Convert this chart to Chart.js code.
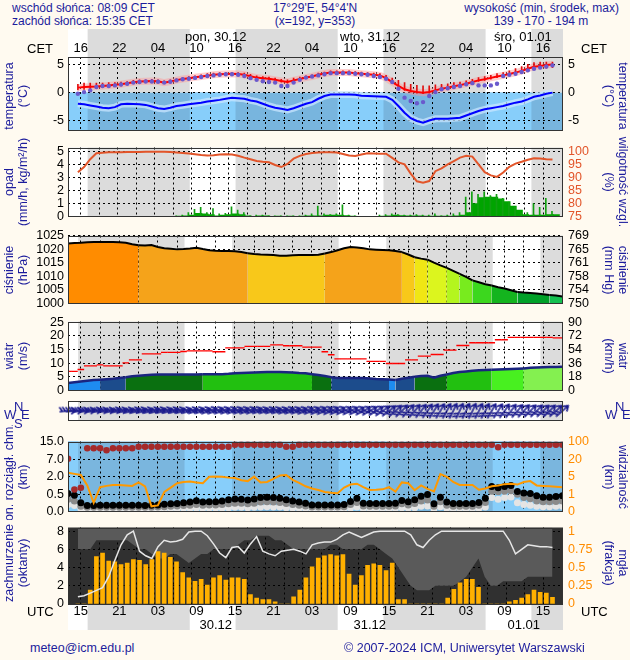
<!DOCTYPE html>
<html lang="pl">
<head>
<meta charset="utf-8">
<title>Meteogram</title>
<script src="https://cdn.jsdelivr.net/npm/chart.js@4.4.1/dist/chart.umd.min.js"></script>
<style>
  body { margin: 0; background: #fffaf0; }
  #page { position: relative; width: 630px; height: 660px; overflow: hidden; background: #fffaf0;
          font-family: "Liberation Sans", Arial, sans-serif; }
  #page canvas { position: absolute; left: 0; }
  .txt { position: absolute; font-size: 12px; color: #1c1c9c; white-space: nowrap; line-height: 13px; z-index: 5; }
  .blk { color: #000; font-size: 13px; }
  .vl, .vr { position: absolute; font-size: 12.5px; color: #1c1c9c; white-space: nowrap; line-height: 14px;
             text-align: center; z-index: 5; }
  .vl { transform: translate(-50%, -50%) rotate(-90deg); }
  .vr { transform: translate(-50%, -50%) rotate(90deg); }
  .clip { position: absolute; overflow: hidden; z-index: 5; }
</style>
</head>
<body>
<div id="page">
  <div class="txt" style="left:12px;top:2px">wschód słońca: 08:09 CET</div>
  <div class="txt" style="left:12px;top:15px">zachód słońca: 15:35 CET</div>
  <div class="txt" style="left:315px;top:2px;transform:translateX(-50%)">17°29'E, 54°4'N</div>
  <div class="txt" style="left:315px;top:15px;transform:translateX(-50%)">(x=192, y=353)</div>
  <div class="txt" style="right:11px;top:2px">wysokość (min, środek, max)</div>
  <div class="txt" style="left:541px;top:15px;transform:translateX(-50%)">139 - 170 - 194 m</div>

  <div class="txt blk" style="left:27px;top:42px">CET</div>
  <div class="txt blk" style="left:581px;top:42px">CET</div>
  <div class="txt blk" style="left:185px;top:30px">pon, 30.12</div>
  <div class="txt blk" style="left:340px;top:30px">wto, 31.12</div>
  <div class="txt blk" style="left:494px;top:30px">śro, 01.01</div>

  <div class="vl" style="left:16px;top:96px">temperatura<br>(°C)</div>
  <div class="vr" style="left:616px;top:96px">temperatura<br>(°C)</div>
  <div class="vl" style="left:16px;top:182px">opad<br>(mm/h, kg/m²/h)</div>
  <div class="vr" style="left:616px;top:182px">wilgotność wzgl.<br>(%)</div>
  <div class="vl" style="left:16px;top:270px">ciśnienie<br>(hPa)</div>
  <div class="vr" style="left:616px;top:270px">ciśnienie<br>(mm Hg)</div>
  <div class="vl" style="left:16px;top:356px">wiatr<br>(m/s)</div>
  <div class="vr" style="left:616px;top:356px">wiatr<br>(km/h)</div>
  <div class="clip" style="left:0;top:425px;width:40px;height:95px">
    <div class="vl" style="left:16px;top:52px">pion. rozciągł. chm.<br>(km)</div>
  </div>
  <div class="vr" style="left:616px;top:477px">widzialność<br>(km)</div>
  <div class="clip" style="left:0;top:520px;width:40px;height:88px">
    <div class="vl" style="left:16px;top:43px">zachmurzenie<br>(oktanty)</div>
  </div>
  <div class="vr" style="left:616px;top:563px">mgła<br>(frakcja)</div>

  <div class="txt" style="left:14px;top:400px;font-size:13px">N</div>
  <div class="txt" style="left:4px;top:408px;font-size:13px">W</div>
  <div class="txt" style="left:21px;top:408px;font-size:13px">E</div>
  <div class="txt" style="left:14px;top:417px;font-size:13px">S</div>
  <div class="txt" style="left:615px;top:400px;font-size:13px">N</div>
  <div class="txt" style="left:605px;top:408px;font-size:13px">W</div>
  <div class="txt" style="left:622px;top:408px;font-size:13px">E</div>

  <div class="txt blk" style="left:27px;top:605px">UTC</div>
  <div class="txt blk" style="left:581px;top:605px">UTC</div>
  <div class="txt blk" style="right:398px;top:618px">30.12</div>
  <div class="txt blk" style="right:244px;top:618px">31.12</div>
  <div class="txt blk" style="right:90px;top:618px">01.01</div>

  <div class="txt" style="left:30px;top:642px;font-size:12.5px">meteo@icm.edu.pl</div>
  <div class="txt" style="left:344px;top:642px;font-size:12.5px">© 2007-2024 ICM, Uniwersytet Warszawski</div>
</div>
<script>
// hours counted from 29.12 00 UTC
var hours = [13,14,15,16,17,18,19,20,21,22,23,24,25,26,27,28,29,30,31,32,33,34,35,36,37,38,39,40,
  41,42,43,44,45,46,47,48,49,50,51,52,53,54,55,56,57,58,59,60,61,62,63,64,65,66,67,68,69,70,
  71,72,73,74,75,76,77,78,79,80,81,82,83,84,85,86,87,88,89,90];
var sunriseUTC = [31.15, 55.15, 79.15];
var sunsetUTC = [14.58, 38.58, 62.58, 86.58];
var gridHours = [15,18,21,24,27,30,33,36,39,42,45,48,51,54,57,60,63,66,69,72,75,78,81,84,87];
var labelHours = [15,21,27,33,39,45,51,57,63,69,75,81,87];
var cetLabels = ['16','22','04','10','16','22','04','10','16','22','04','10','16'];
var utcLabels = ['15','21','03','09','15','21','03','09','15','21','03','09','15'];

var temperature = [0.9,1.0,1.05,1.1,1.2,1.3, 1.4,1.5,1.7,1.85,2.0,2.05, 2.1,2.05,1.8,2.0,2.25,2.45,
  2.6,2.75,2.9,3.05,3.2,3.3, 3.35,3.4,3.35,3.2,2.95,2.7, 2.6,2.5,2.3,2.1,1.9,2.2,
  2.45,2.7,2.9,3.2,3.45,3.6, 3.6,3.6,3.6,3.5,3.4,3.3, 3.2,3.1,2.6,1.9,1.2,0.6,
  0.3,0.1,0.0,0.1,0.4,0.7, 0.9,1.15,1.35,1.6,1.9,2.2, 2.4,2.65,2.9,3.1,3.35,3.6, 3.9,4.3,4.65,4.8,4.95,5.05];
var tempMin = [0.5,0.6,0.6,0.7,0.9,1.0, 1.1,1.2,1.4,1.6,1.8,1.8, 1.9,1.8,1.6,1.8,2.0,2.2,
  2.4,2.5,2.7,2.8,3.0,3.1, 3.1,3.2,3.1,3.0,2.7,2.5, 2.4,2.3,2.1,1.9,1.7,2.0,
  2.2,2.5,2.7,3.0,3.2,3.4, 3.4,3.4,3.4,3.3,3.2,3.1, 3.0,2.9,2.4,1.7,1.0,0.4,
  0.1,-0.1,-0.2,-0.1,0.2,0.5, 0.7,0.9,1.1,1.4,1.7,2.0, 2.2,2.4,2.7,2.9,3.1,3.4, 3.6,3.9,4.2,4.3,4.4,4.5];
var tempMax = [1.5,1.7,1.7,1.7,1.7,1.8, 1.8,1.9,2.0,2.2,2.3,2.3, 2.4,2.3,2.1,2.3,2.5,2.7,
  2.9,3.0,3.2,3.4,3.5,3.6, 3.6,3.6,3.6,3.5,3.3,3.0, 2.9,2.8,2.6,2.4,2.3,2.6,
  2.8,3.0,3.2,3.5,3.7,3.9, 3.9,3.9,3.9,3.8,3.7,3.6, 3.5,3.4,3.1,2.6,2.2,1.8,
  1.5,1.3,1.2,1.2,1.4,1.5, 1.6,1.8,1.9,2.1,2.4,2.7, 2.9,3.1,3.4,3.6,3.9,4.3, 4.7,5.1,5.4,5.5,5.5,5.5];
var perceived = [-0.2,0.1,0.4,1.0,1.2,1.2, 1.3,1.45,1.6,1.8,1.9,2.0, 2.0,1.95,1.8,1.95,2.2,2.4,
  2.5,2.65,2.8,3.0,3.1,3.2, 3.3,3.3,3.2,3.0,2.6,2.3, 2.05,1.9,1.8,1.2,1.2,1.8,
  2.3,2.7,2.9,3.1,3.3,3.5, 3.5,3.5,3.5,3.4,3.3,3.2, 3.0,2.8,2.5,1.9,0.7,-0.9,
  -1.5,-1.9,-1.7,-0.6,0.1,0.6, 0.8,1.0,1.2,1.5,1.7,1.3, 1.3,1.3,1.6,3.0,3.2,3.4, 3.7,4.0,4.3,4.5,4.7,4.9];
var dewPoint = [-2.0,-2.1,-2.3,-2.5,-2.7,-2.8, -2.6,-2.1,-2.0,-2.05,-2.1,-2.2, -2.5,-2.8,-2.95,-2.7,-2.4,-2.25,
  -2.1,-1.95,-1.8,-1.6,-1.45,-1.3, -1.1,-0.9,-1.0,-1.1,-1.4,-1.6, -2.0,-2.4,-2.7,-2.9,-3.1,-2.8,
  -2.4,-2.0,-1.7,-1.1,-0.6,-0.35, -0.35,-0.35,-0.35,-0.4,-0.55,-0.6, -0.65,-0.7,-0.75,-1.3,-2.4,-3.6,
  -4.6,-5.1,-5.4,-5.0,-4.7,-4.7, -4.7,-4.6,-4.5,-4.1,-3.7,-3.3, -3.0,-2.8,-2.6,-2.4,-2.1,-1.8, -1.6,-1.2,-0.75,-0.5,-0.2,0.0];

var humidity = [92.0,94.0,97.0,99.3,99.5,99.7, 99.7,99.7,99.8,99.8,99.8,99.9, 99.9,99.9,99.9,99.8,99.6,99.4,
  99.2,98.9,98.6,98.4,98.5,98.8, 98.9,98.8,98.3,97.6,97.0,96.3, 96.0,95.8,94.8,94.0,95.2,97.2,
  98.3,99.0,99.4,99.6,99.7,99.7, 99.6,99.0,98.4,98.2,98.8,99.3, 99.2,99.1,99.1,97.5,95.8,95.0,
  91.5,88.5,88.0,88.6,92.4,93.5, 95.0,96.3,97.6,98.3,98.0,95.0, 92.0,90.8,90.2,91.9,94.1,95.3, 96.0,96.8,97.4,97.3,97.0,96.9];
var precip = [0,0,0,0,0,0, 0,0,0,0,0,0, 0,0,0,0,0.02,0.05,
  0.1,0.25,0.2,0.15,0.05,0.1, 0.15,0.2,0.15,0.05,0,0.05, 0.05,0,0.02,0,0.02,0,
  0.02,0.05,0.05,0.05,0.1,0.1, 0.1,0.08,0.03,0,0,0, 0,0.03,0.05,0.1,0.08,0.05,
  0.05,0.05,0.03,0.03,0.03,0.02, 0.03,0.05,0.1,0.3,1.0,1.45, 1.5,1.5,1.35,1.15,0.8,0.5, 0.15,0.1,0.1,0.1,0.15,0.15];
var precipMax = [0,0,0,0,0,0, 0,0,0,0,0,0, 0,0,0,0,0.05,0.1,
  0.3,0.55,0.7,0.3,0.6,0.2, 0.25,0.75,0.5,0.3,0.05,0.1, 0.1,0.05,0.05,0.05,0.05,0.05,
  0.05,0.1,0.2,0.8,0.2,0.15, 0.2,0.9,0.1,0.05,0,0, 0,0.1,0.15,0.2,0.15,0.1,
  0.1,0.15,0.1,0.1,0.2,0.05, 0.1,0.2,0.3,1.5,1.9,1.7, 1.9,1.6,1.7,1.4,1.1,0.7, 0.3,0.3,1.0,0.7,1.4,0.4];

var pressure = [1022.1,1022.2,1022.3,1022.5,1022.6,1022.6, 1022.6,1022.6,1022.5,1022.3,1021.8,1021.4,
  1021.3,1021.5,1020.8,1020.3,1020.1,1019.9, 1020.0,1020.2,1020.5,1020.0,1019.6,1019.4,
  1019.3,1019.3,1019.2,1018.9,1018.5,1018.2, 1018.0,1017.9,1017.8,1017.6,1017.6,1017.7,
  1017.8,1017.8,1017.8,1017.9,1018.4,1018.9, 1019.6,1020.3,1020.8,1020.6,1020.3,1019.9,
  1019.8,1019.7,1019.6,1019.3,1018.9,1018.0, 1017.0,1016.5,1016.1,1015.0,1014.0,1013.1,
  1012.0,1010.9,1009.8,1008.5,1007.8,1007.1, 1006.6,1006.0,1005.5,1004.9,1004.2,1004.0,
  1003.9,1003.7,1003.4,1003.1,1002.9,1002.6];

var windSpeed = [2.75,3.0,3.3,3.6,3.85,3.9, 4.1,4.3,4.6,4.9,5.2,5.45, 5.6,5.75,5.85,5.9,5.9,5.9,
  5.9,5.9,5.9,5.95,6.0,6.0, 6.0,6.1,6.3,6.4,6.5,6.6, 6.7,6.75,6.8,6.8,6.7,6.6,
  6.4,6.3,6.0,5.7,5.3,4.9, 4.6,4.6,4.6,4.6,4.6,4.4, 4.2,4.1,4.0,3.85,4.3,4.7,
  5.0,5.3,5.4,4.7,5.4,5.9, 6.4,6.8,7.0,7.2,7.4,7.5, 7.6,7.7,7.8,7.9,8.0,8.1, 8.3,8.4,8.5,8.6,8.6,8.7];
var windGust = [7.0,7.0,7.7,9.0,9.0,9.4, 9.0,9.0,9.0,10.1,11.2,11.2, 13.4,13.4,13.4,14.0,14.0,14.0,
  14.3,14.5,14.5,14.5,14.5,14.2, 14.2,15.6,15.6,15.6,16.2,16.2, 16.2,16.2,16.7,16.7,16.4,16.4,
  16.4,15.9,15.9,15.9,14.2,13.1, 11.6,11.6,11.6,11.6,11.6,10.7, 10.7,10.7,9.9,9.9,9.9,11.2,
  11.2,12.6,12.6,13.2,13.2,14.8, 14.8,16.5,16.5,17.5,17.5,17.5, 17.5,18.6,18.6,19.5,19.5,19.5, 19.5,19.5,19.5,19.5,19.3,19.3];
var windDir = [265,265,262,262,260,260, 260,258,258,258,256,256, 256,255,255,255,255,255,
  254,254,252,252,250,250, 250,250,250,250,250,250, 252,252,252,252,250,250,
  250,248,248,246,246,245, 245,245,244,244,242,240, 238,235,232,228,225,222,
  220,218,215,212,210,208, 206,205,205,205,206,208, 210,212,215,218,220,222, 224,225,226,226,228,228];

var cloudTop = [7.3,0.9,1.05,12.1,12.1,12.1, 11.2,12.1,12.1,12.1,12.1,12.8, 12.8,12.8,12.8,12.8,12.8,12.8,
  12.8,12.8,12.8,12.8,12.8,12.8, 12.8,12.8,13.8,13.8,13.8,13.8, 13.8,13.8,13.8,13.8,12.8,12.8,
  13.8,13.8,13.8,13.8,13.8,13.8, 13.8,13.8,13.8,13.8,13.8,13.8, 13.8,13.8,13.8,13.8,13.8,13.8,
  13.8,13.8,13.8,13.8,13.8,13.8, 13.8,13.8,13.8,13.8,13.8,13.8, 13.8,12.6,13.8,13.8,13.8,13.8, 13.8,13.8,13.8,13.8,13.8,13.8];
var cloudBase = [0.55,0.47,0.25,0.17,0.17,0.18, 0.18,0.18,0.18,0.18,0.18,0.18, 0.17,0.18,0.19,0.21,0.22,0.23,
  0.25,0.27,0.31,0.27,0.28,0.28, 0.3,0.34,0.36,0.35,0.33,0.36, 0.4,0.41,0.4,0.38,0.34,0.3,
  0.27,0.24,0.19,0.19,0.19,0.19, 0.19,0.2,0.29,0.38,0.24,0.23, 0.23,0.23,0.23,0.24,0.32,0.28,
  0.34,0.44,0.49,0.22,0.41,0.27, 0.23,0.23,0.23,0.23,0.26,0.38, 1.16,1.05,1.16,1.24,0.72,0.6, 0.55,0.45,0.41,0.41,0.43,0.45];
var cloudBaseMid = [0.35,0.3,0.15,0.12,0.12,0.12, 0.12,0.12,0.12,0.12,0.12,0.12, 0.12,0.12,0.13,0.14,0.15,0.16,
  0.17,0.18,0.2,0.18,0.19,0.19, 0.2,0.22,0.24,0.24,0.22,0.24, 0.27,0.28,0.27,0.26,0.23,0.2,
  0.18,0.16,0.13,0.13,0.13,0.13, 0.13,0.14,0.2,0.26,0.16,0.15, 0.15,0.15,0.15,0.16,0.22,0.19,
  0.23,0.3,0.33,0.15,0.28,0.18, 0.15,0.15,0.15,0.15,0.18,0.26, 0.75,0.7,0.75,0.8,0.5,0.4, 0.37,0.3,0.28,0.28,0.29,0.3];
var cloudBaseMin = [0.2,0.17,0.08,0.06,0.06,0.06, 0.06,0.06,0.06,0.06,0.06,0.06, 0.06,0.06,0.07,0.07,0.08,0.08,
  0.09,0.09,0.1,0.09,0.1,0.1, 0.1,0.11,0.12,0.12,0.11,0.12, 0.13,0.14,0.13,0.13,0.11,0.1,
  0.09,0.08,0.07,0.07,0.07,0.07, 0.07,0.07,0.1,0.13,0.08,0.08, 0.08,0.08,0.08,0.08,0.11,0.1,
  0.11,0.15,0.16,0.08,0.14,0.09, 0.08,0.08,0.08,0.08,0.09,0.13, 0.4,0.35,0.4,0.42,0.25,0.2, 0.18,0.15,0.14,0.14,0.15,0.15];
var visibility = [8.5,7.5,6.5,3.0,0.5,2.6, 2.9,3.1,3.1,3.0,2.9,3.7, 2.8,0.3,0.35,1.5,2.5,3.5,
  3.8,3.9,3.7,3.5,5.0,5.2, 5.0,4.8,4.7,4.2,4.0,5.1, 3.7,3.8,4.5,6.0,6.5,4.3,
  3.6,2.8,2.3,1.96,1.5,1.3, 1.2,2.5,3.2,3.4,2.6,1.96, 2.0,2.1,2.6,1.6,3.7,3.5,
  1.9,3.0,2.2,1.6,7.3,5.0, 3.8,3.1,3.1,3.1,2.0,2.3, 2.8,3.0,3.3,3.4,3.2,3.8, 4.0,3.0,2.9,2.8,2.7,2.6];
var baseStops = [0, 0.5, 2, 7, 15];
var visStops = [0, 1, 5, 20, 100];
var baseLabels = ['0.0','0.5','2.0','7.0','15.0'];
var visLabels = ['0','1','5','20','100'];

var fog = [0,0,0.19,0.65,0.7,0.59, 0.58,0.54,0.56,0.61,0.6,0.54, 0.61,0.72,0.7,0.64,0.58,0.43,
  0.36,0.31,0.34,0.26,0.36,0.39, 0.33,0.36,0.36,0.34,0.13,0.08, 0.06,0.06,0.03,0,0,0.1,
  0.19,0.36,0.51,0.63,0.66,0.68, 0.66,0.68,0.41,0.26,0.39,0.53, 0.55,0.53,0.46,0.56,0.06,0.06,
  0,0,0,0,0,0, 0.08,0.2,0.29,0.34,0.34,0.23, 0,0,0,0,0.03,0.05, 0.08,0.13,0.19,0.16,0.15,0.09];
var totalCloud = [0.8,0.9,1.2,1.5,1.8,3.0, 4.8,6.5,7.6,8.0,5.8,5.3, 5.0,6.3,7.0,6.8,6.9,7.1,
  7.9,8.0,8.0,7.5,6.6,5.6, 5.1,6.2,6.3,5.6,6.6,7.4, 5.8,5.5,5.3,5.8,5.9,6.0,
  5.8,5.5,6.5,6.7,6.8,6.8, 7.1,7.6,7.9,7.6,7.3,7.6, 7.9,8.0,8.0,8.0,8.0,8.0,
  7.6,6.5,6.2,7.0,7.6,8.0, 8.0,8.0,8.0,8.0,8.0,8.0, 8.0,8.0,8.0,8.0,7.0,5.5, 6.0,6.5,6.4,6.3,6.3,6.2];
var upperCloud = [2,2,2,1,1,1, 1,1,1,1.5,2,2, 2.5,3,3,2.5,2.5,3, 3.5,3,2.5,2.5,2,2, 2,2,1.5,1,1,0.5,
  0.5,0.5,1,1,1.5,2, 2,2,2,2,2,1.5, 1.5,2,2,2,2,1.5, 1.5,2,2.5,3,4,5,
  6,6.5,6.5,6.5,6,6, 6,6,5.5,5,4,3, 5,6,6,5.5,5.5,5.5, 5.5,5,5,5,5,5];

var tempTicks = [-5, 0, 5];
var rainTicks = [0, 1, 2, 3, 4, 5];
var humTicks = [75, 80, 85, 90, 95, 100];
var presTicks = [1000, 1005, 1010, 1015, 1020, 1025];
var presHgLabels = ['750', '754', '758', '761', '765', '769'];
var windTicks = [0, 5, 10, 15, 20, 25];
var windKmhLabels = ['0', '18', '36', '54', '72', '90'];
var cloudTicks = [0, 2, 4, 6, 8];
var fogTicks = [0, 0.25, 0.5, 0.75, 1];
var fogLabels = ['0', '0.25', '0.5', '0.75', '1'];

Chart.defaults.font.family = '"Liberation Sans", Arial, sans-serif';
Chart.defaults.font.size = 12.5;
Chart.defaults.color = '#000';
Chart.defaults.plugins.legend.display = false;
Chart.defaults.plugins.tooltip.enabled = false;

var days = sunsetUTC.map(function (s, i) { return [i ? sunriseUTC[i - 1] : 0, s]; });

function pts(arr, conv) {
  return hours.map(function (h, i) { return { x: h, y: conv ? conv(arr[i]) : arr[i] }; });
}

function toScale(stops) {
  return function (v) {
    for (var i = 1; i < stops.length; i++) {
      if (v <= stops[i]) return i - 1 + (v - stops[i - 1]) / (stops[i] - stops[i - 1]);
    }
    return stops.length - 1;
  };
}

// day/night background and the frame around each plot
var shade = {
  id: 'shade',
  beforeDraw: function (chart, args, o) {
    var ctx = chart.ctx, a = chart.chartArea, x = chart.scales.x, y = chart.scales.y;
    function paint(top, bot, night, day) {
      ctx.fillStyle = night;
      ctx.fillRect(a.left, top, a.right - a.left, bot - top);
      if (!day) return;
      ctx.fillStyle = day;
      days.forEach(function (d) {
        var l = Math.max(a.left, x.getPixelForValue(d[0]));
        var r = Math.min(a.right, x.getPixelForValue(d[1]));
        if (r > l) ctx.fillRect(l, top, r - l, bot - top);
      });
    }
    ctx.save();
    (o.layers || []).forEach(function (L) {
      var t = L.to == null ? a.top : y.getPixelForValue(L.to);
      var b = L.from == null ? a.bottom : y.getPixelForValue(L.from);
      paint(Math.max(a.top, t), Math.min(a.bottom, b), L.night, L.day);
    });
    (o.strips || []).forEach(function (S) { paint(S.top, S.bottom, S.night, S.day); });
    ctx.restore();
  },
  afterDraw: function (chart) {
    var ctx = chart.ctx, a = chart.chartArea;
    ctx.save();
    ctx.strokeStyle = '#333';
    ctx.lineWidth = 1;
    ctx.strokeRect(Math.round(a.left) + 0.5, Math.round(a.top) + 0.5,
      Math.round(a.right - a.left) - 1, Math.round(a.bottom - a.top) - 1);
    ctx.restore();
  }
};
Chart.register(shade);

function xGrid(z) {
  return {
    type: 'linear', min: 13, max: 90.1, position: 'bottom', z: z || 0,
    afterBuildTicks: function (s) { s.ticks = gridHours.map(function (v) { return { value: v }; }); },
    afterFit: function (s) { s.height = 0; },
    ticks: { display: false },
    grid: { color: '#000', drawTicks: false },
    border: { display: false, dash: [2, 3] }
  };
}

function xLabels(pos, labels, height, pad) {
  return {
    type: 'linear', min: 13, max: 90.1, position: pos,
    afterBuildTicks: function (s) { s.ticks = labelHours.map(function (v) { return { value: v }; }); },
    afterFit: function (s) { s.height = height; },
    ticks: { padding: pad, maxRotation: 0, autoSkip: false, font: { size: 13 },
      callback: function (v, i) { return labels[i]; } },
    grid: { drawOnChartArea: false, drawTicks: false },
    border: { display: false }
  };
}

function yLeft(min, max, ticks, labels, z) {
  return {
    position: 'left', min: min, max: max, z: z || 0,
    afterFit: function (s) { s.width = 68; },
    afterBuildTicks: function (s) { s.ticks = ticks.map(function (v) { return { value: v }; }); },
    ticks: { padding: 4, autoSkip: false, callback: function (v, i) { return labels ? labels[i] : v; } },
    grid: { color: '#000', drawTicks: false },
    border: { display: false, dash: [2, 3] }
  };
}

function yRight(min, max, ticks, labels, color) {
  return {
    position: 'right', min: min, max: max,
    afterFit: function (s) { s.width = 67; },
    afterBuildTicks: function (s) { s.ticks = ticks.map(function (v) { return { value: v }; }); },
    ticks: { padding: 5, autoSkip: false, color: color || '#000',
      callback: function (v, i) { return labels ? labels[i] : v; } },
    grid: { drawOnChartArea: false, drawTicks: false },
    border: { display: false }
  };
}

function makeChart(top, height, config) {
  var c = document.createElement('canvas');
  c.width = 630;
  c.height = height;
  c.style.top = top + 'px';
  document.getElementById('page').appendChild(c);
  config.options.responsive = false;
  config.options.animation = false;
  config.options.events = [];
  return new Chart(c, config);
}

var nightGray = '#dcdcdc', dayWhite = '#ffffff';

// temperature
makeChart(28, 115, {
  type: 'line',
  data: { datasets: [
    { data: pts(perceived), showLine: false, pointRadius: 2.2, pointBackgroundColor: '#6a5acd', pointBorderWidth: 0, order: 0 },
    { data: pts(temperature), borderColor: '#ff0000', borderWidth: 2, pointRadius: 0, order: 1 },
    { data: pts(dewPoint), borderColor: '#0000ff', borderWidth: 2, pointRadius: 0, order: 2 },
    { type: 'bar', data: hours.map(function (h, i) { return { x: h, y: [tempMin[i], tempMax[i]] }; }),
      backgroundColor: '#e01010', barThickness: 1, order: 3 },
    { data: pts(temperature), borderColor: 'rgba(255,150,150,0.45)', borderWidth: 7, pointRadius: 0, order: 5 },
    { data: pts(dewPoint), borderColor: 'rgba(200,230,255,0.75)', borderWidth: 7, pointRadius: 0, order: 6 }
  ] },
  options: {
    layout: { padding: { top: 0, bottom: 8 } },
    scales: {
      x: xGrid(), xTop: xLabels('top', cetLabels, 29, 1),
      y: yLeft(-6.8, 6.4, tempTicks), y2: yRight(-6.8, 6.4, tempTicks)
    },
    plugins: { shade: {
      layers: [{ from: 0, night: nightGray, day: dayWhite }, { to: 0, night: '#78b5de', day: '#87cefa' }],
      strips: [{ top: 1, bottom: 29, night: nightGray, day: dayWhite }]
    } }
  }
});

// precipitation and relative humidity
makeChart(135, 94, {
  type: 'line',
  data: { datasets: [
    { data: pts(humidity), yAxisID: 'y2', borderColor: '#e2552a', borderWidth: 2, pointRadius: 0, order: 0 },
    { type: 'bar', data: pts(precip), backgroundColor: '#00a400', barThickness: 7, order: 2 },
    { type: 'bar', data: pts(precipMax), backgroundColor: '#11a011', barThickness: 1, order: 1 }
  ] },
  options: {
    layout: { padding: { top: 8, bottom: 8 } },
    scales: { x: xGrid(), y: yLeft(0, 5.3, rainTicks), y2: yRight(75, 101.5, humTicks, null, '#e2552a') },
    plugins: { shade: { layers: [{ night: nightGray, day: dayWhite }] } }
  }
});

// pressure
function presColor(p) {
  if (p >= 1021.5) return '#ff8c00';
  if (p >= 1018.6) return '#f5a31a';
  if (p >= 1017.2) return '#f8c81a';
  if (p >= 1016) return '#f0e614';
  if (p >= 1013) return '#dcf51e';
  if (p >= 1011) return '#b4f51e';
  if (p >= 1009) return '#78eb1e';
  if (p >= 1006.5) return '#3cd71e';
  if (p >= 1004.2) return '#14b41e';
  if (p >= 1003.2) return '#00a028';
  return '#14c050';
}
makeChart(223, 93, {
  type: 'line',
  data: { datasets: [
    { data: pts(pressure), borderColor: '#000', borderWidth: 2, pointRadius: 0,
      fill: { value: 1000 }, backgroundColor: '#f5a31a',
      segment: { backgroundColor: function (c) { return presColor((c.p0.parsed.y + c.p1.parsed.y) / 2); } } }
  ] },
  options: {
    layout: { padding: { top: 8, bottom: 8 } },
    scales: { x: xGrid(1), y: yLeft(1000, 1025, presTicks, null, 1), y2: yRight(1000, 1025, presTicks, presHgLabels) },
    plugins: { shade: { layers: [{ night: nightGray, day: dayWhite }] } }
  }
});

// wind speed and gusts
function windColor(v) {
  if (v < 4.0) return '#1e8cf0';
  if (v < 4.9) return '#1c4c8c';
  if (v < 5.95) return '#0a7010';
  if (v < 7.6) return '#22c010';
  if (v < 8.1) return '#48f020';
  return '#84f050';
}
makeChart(309, 94, {
  type: 'line',
  data: { datasets: [
    { data: pts(windGust), showLine: false, pointStyle: 'line', pointRadius: 3.3, pointBorderColor: '#ff0000',
      pointBorderWidth: 1.3, order: 0 },
    { data: pts(windSpeed), borderColor: '#1a2480', borderWidth: 2.5, pointRadius: 0, fill: 'origin',
      backgroundColor: '#22c010',
      segment: { backgroundColor: function (c) { return windColor((c.p0.parsed.y + c.p1.parsed.y) / 2); } }, order: 1 }
  ] },
  options: {
    layout: { padding: { top: 8, bottom: 8 } },
    scales: { x: xGrid(1), y: yLeft(0, 25.3, windTicks, null, 1), y2: yRight(0, 25.3, windTicks, windKmhLabels) },
    plugins: { shade: { layers: [{ night: nightGray, day: dayWhite }] } }
  }
});

// wind direction arrows
var arrow = document.createElement('canvas');
arrow.width = 18; arrow.height = 18;
(function () {
  var g = arrow.getContext('2d');
  g.strokeStyle = '#1a1a8c';
  g.lineWidth = 1.6;
  g.lineCap = 'round';
  g.beginPath();
  g.moveTo(1, 9); g.lineTo(17, 9);
  g.moveTo(17, 9); g.lineTo(12.5, 6);
  g.moveTo(17, 9); g.lineTo(12.5, 12);
  g.moveTo(3.5, 9); g.lineTo(1, 5);
  g.moveTo(6.5, 9); g.lineTo(4, 5);
  g.stroke();
})();
makeChart(393, 36, {
  type: 'line',
  data: { datasets: [
    { data: hours.map(function (h) { return { x: h, y: 0 }; }), showLine: false, pointStyle: arrow,
      pointRotation: windDir.map(function (d) { return d + 90; }), clip: false }
  ] },
  options: {
    layout: { padding: { top: 8, bottom: 8, left: 68, right: 67 } },
    scales: { x: xGrid(), y: { display: false, min: -1, max: 1 } },
    plugins: { shade: { layers: [{ night: nightGray, day: dayWhite }] } }
  }
});

// vertical cloud extent and visibility
var baseU = toScale(baseStops), visU = toScale(visStops);
makeChart(429, 95, {
  type: 'line',
  data: { datasets: [
    { data: pts(cloudTop, baseU), showLine: false, pointRadius: 3.3, pointBackgroundColor: '#a52a2a', pointBorderWidth: 0, order: 1 },
    { data: pts(cloudBase, baseU), showLine: false, pointRadius: 3.5, pointBackgroundColor: '#000', pointBorderWidth: 0, order: 2 },
    { data: pts(cloudBaseMid, baseU), showLine: false, pointRadius: 3.5, pointBackgroundColor: '#8a8a8a', pointBorderWidth: 0, order: 3 },
    { data: pts(cloudBaseMin, baseU), showLine: false, pointRadius: 3.5, pointBackgroundColor: '#e4e4e4', pointBorderWidth: 0, order: 4 },
    { data: pts(visibility, visU), borderColor: '#ff9900', borderWidth: 2, pointRadius: 0, order: 0 }
  ] },
  options: {
    layout: { padding: { top: 8, bottom: 8 } },
    scales: { x: xGrid(), y: yLeft(0, 4.03, [0, 1, 2, 3, 4], baseLabels), y2: yRight(0, 4.03, [0, 1, 2, 3, 4], visLabels, '#ff8c00') },
    plugins: { shade: { layers: [{ night: '#7ab6de', day: '#87cefa' }] } }
  }
});

// cloud cover and fog
makeChart(515, 115, {
  type: 'line',
  data: { datasets: [
    { data: pts(totalCloud), borderColor: '#e6e6e6', borderWidth: 1.5, pointRadius: 0, order: 0 },
    { type: 'bar', data: pts(fog), yAxisID: 'y2', backgroundColor: '#ffb000', barThickness: 4, order: 1 },
    { data: pts(upperCloud, function (v) { return 8 - v; }), borderWidth: 0, pointRadius: 0, fill: 'end',
      backgroundColor: '#5a5a5a', order: 5 }
  ] },
  options: {
    layout: { padding: { top: 8, bottom: 0 } },
    scales: {
      x: xGrid(1), xBot: xLabels('bottom', utcLabels, 26, 0),
      y: yLeft(0, 8.4, cloudTicks, null, 1), y2: yRight(0, 1.05, fogTicks, fogLabels, '#ff8c00')
    },
    plugins: { shade: {
      layers: [{ night: '#303030' }],
      strips: [{ top: 89, bottom: 115, night: nightGray, day: dayWhite }]
    } }
  }
});
</script>
</body>
</html>
